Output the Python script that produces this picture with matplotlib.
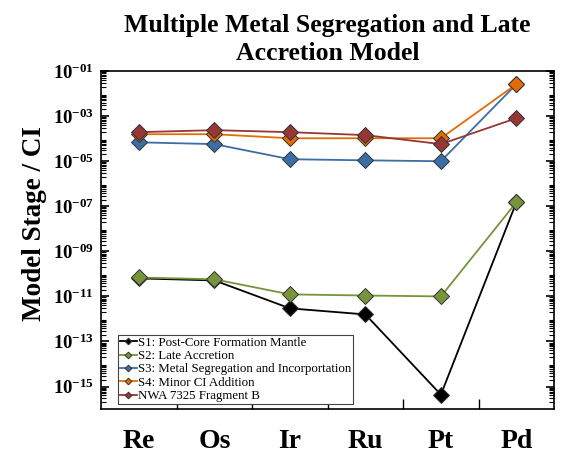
import numpy as np
import matplotlib.pyplot as plt
from matplotlib.ticker import FuncFormatter, FixedLocator, NullFormatter

plt.rcParams['font.family'] = ['Liberation Serif', 'DejaVu Serif']
plt.rcParams['mathtext.fontset'] = 'custom'
plt.rcParams['mathtext.rm'] = 'Liberation Serif'
plt.rcParams['mathtext.bf'] = 'Liberation Serif:bold'

elements = ['Re', 'Os', 'Ir', 'Ru', 'Pt', 'Pd']

# log10 of the normalised abundances
s1 = [-10.2, -10.29, -11.53, -11.8, -15.36, -6.82]
s2 = [-10.16, -10.24, -10.91, -10.96, -11.0, -6.82]
s3 = [-4.16, -4.24, -4.91, -4.96, -5.0, -1.58]
s4 = [-3.8, -3.8, -3.98, -3.98, -3.98, -1.58]
nwa = [-3.71, -3.62, -3.71, -3.84, -4.24, -3.09]

series = [
    ('S1: Post-Core Formation Mantle', s1, '#000000'),
    ('S2: Late Accretion', s2, '#77933C'),
    ('S3: Metal Segregation and Incorportation', s3, '#3A6EA5'),
    ('S4: Minor CI Addition', s4, '#E36C09'),
    ('NWA 7325 Fragment B', nwa, '#953735'),
]

fig = plt.figure(figsize=(5.62, 4.53), dpi=100)
ax = fig.add_axes([0.18, 0.097, 0.806, 0.746])

x = np.arange(len(elements))
for name, vals, col in series:
    ax.plot(x, 10.0 ** np.array(vals), color=col, lw=1.3, marker='D',
            ms=8.5, mfc=col, mec='#333333', mew=0.7, label=name)

ax.set_yscale('log')
ax.set_ylim(1e-16, 1e-1)
ax.set_xlim(-0.5, 5.5)

ax.yaxis.set_major_locator(FixedLocator([10.0 ** k for k in range(-15, 0, 2)]))
minors = [m * 10.0 ** k for k in range(-16, -1) for m in range(2, 10)]
ax.yaxis.set_minor_locator(FixedLocator(minors))
ax.yaxis.set_minor_formatter(NullFormatter())
ax.yaxis.set_major_formatter(FuncFormatter(
    lambda v, p: r'$\mathbf{10^{-%02d}}$' % round(-np.log10(v))))
ax.tick_params(axis='y', which='both', direction='in', left=True, right=True)
ax.tick_params(axis='y', which='major', length=6, width=1.2, labelsize=13.5, pad=5)
ax.tick_params(axis='y', which='minor', length=3.5, width=0.8)

ax.set_xticks(x)
ax.set_xticklabels(elements, fontsize=20, fontweight='bold')
ax.xaxis.set_minor_locator(FixedLocator(x[:-1] + 0.5))
ax.tick_params(axis='x', which='major', length=0, pad=14)
ax.tick_params(axis='x', which='minor', direction='in', length=7, width=1)

for sp in ax.spines.values():
    sp.set_linewidth(1.2)

ax.set_ylabel('Model Stage / CI', fontsize=19.5, fontweight='bold',
              labelpad=4, y=0.55)
ax.set_title('Multiple Metal Segregation and Late\nAccretion Model',
             fontsize=18.5, fontweight='bold', linespacing=1.28, pad=8)

leg = ax.legend(loc='lower left', bbox_to_anchor=(0.037, 0.015), fontsize=9.3,
                handlelength=1.3, handletextpad=0.1, borderpad=0.15,
                labelspacing=0.1, fancybox=False, framealpha=1,
                markerscale=0.4, borderaxespad=0)
leg.get_frame().set_edgecolor('#444444')
leg.get_frame().set_linewidth(0.8)

fig.savefig('out.png', dpi=100)
